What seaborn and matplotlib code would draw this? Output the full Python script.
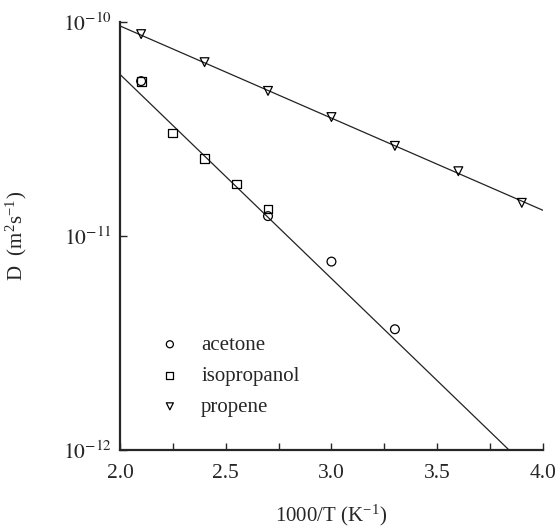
import numpy as np
import pandas as pd
import seaborn as sns
import matplotlib.pyplot as plt
from matplotlib.ticker import MultipleLocator, FixedLocator, FuncFormatter

# --- Datos ---
acetone_x = [2.1, 2.7, 3.0, 3.3]
acetone_d = [5.3e-11, 1.24e-11, 7.6e-12, 3.67e-12]

isopropanol_x = [2.1, 2.25, 2.4, 2.55, 2.7]
isopropanol_d = [5.3e-11, 3.03e-11, 2.31e-11, 1.75e-11, 1.34e-11]

propene_x = [2.1, 2.4, 2.7, 3.0, 3.3, 3.6, 3.9]
propene_d = [8.79e-11, 6.5e-11, 4.77e-11, 3.6e-11, 2.64e-11, 2.01e-11, 1.43e-11]

# rectas de ajuste (extremos)
fit_propene_x = [2.0, 4.0]
fit_propene_d = [9.6e-11, 1.32e-11]
fit_polar_x = [2.0, 3.84]
fit_polar_d = [5.7e-11, 1.0e-12]

sns.set_style("ticks")
plt.rcParams["font.family"] = ["Liberation Serif", "DejaVu Serif"]
plt.rcParams["mathtext.fontset"] = "stix"

fig = plt.figure(figsize=(5.58, 5.27), dpi=100)
ax = fig.add_axes([0.215, 0.146, 0.758, 0.812])

sns.lineplot(x=fit_propene_x, y=fit_propene_d, color="#222222", lw=0.9, ax=ax)
sns.lineplot(x=fit_polar_x, y=fit_polar_d, color="#222222", lw=0.9, ax=ax)

series = [
    ("acetone", acetone_x, acetone_d, "o"),
    ("isopropanol", isopropanol_x, isopropanol_d, "s"),
    ("propene", propene_x, propene_d, "v"),
]
for name, xs, ds, mk in series:
    df = pd.DataFrame({"x": xs, "D": ds})
    sns.scatterplot(data=df, x="x", y="D", marker=mk, s=40, facecolors="none",
                    edgecolors="black", linewidth=0.9, label=name, ax=ax, zorder=3)

ax.set_yscale("log")
ax.set_xlim(2.0, 4.0)
ax.set_ylim(1e-12, 1e-10)

ax.xaxis.set_major_locator(MultipleLocator(0.5))
ax.xaxis.set_minor_locator(MultipleLocator(0.25))
ax.xaxis.set_major_formatter(FuncFormatter(lambda v, p: f"{v:.1f}"))
ax.yaxis.set_major_locator(FixedLocator([1e-12, 1e-11, 1e-10]))
ax.yaxis.set_minor_locator(FixedLocator([]))
ax.yaxis.set_major_formatter(FuncFormatter(lambda v, p: r"$10^{%d}$" % round(np.log10(v))))

ax.tick_params(axis="both", which="both", direction="in", length=5, width=1, labelsize=15.5)
ax.tick_params(axis="x", pad=10)
ax.tick_params(axis="y", pad=6)

sns.despine(ax=ax)
for side in ["left", "bottom"]:
    ax.spines[side].set_linewidth(1.6)

ax.set_xlabel(r"1000/T (K$^{\mathregular{-1}}$)", fontsize=15, labelpad=14)
ax.set_ylabel(r"D  (m$^{\mathregular{2}}$s$^{\mathregular{-1}}$)", fontsize=15, labelpad=24)

leg = ax.legend(loc="upper left", bbox_to_anchor=(0.049, 0.288), frameon=False,
                fontsize=15, handletextpad=0.5, labelspacing=0.55, markerscale=0.8,
                borderaxespad=0)

fig.savefig("out.png", dpi=100)
